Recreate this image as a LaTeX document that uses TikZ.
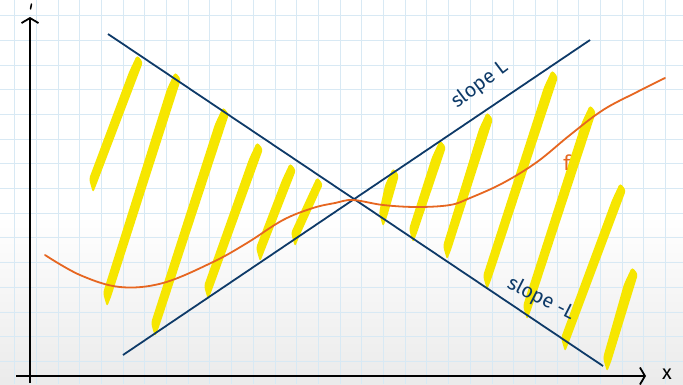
\documentclass[tikz,border=0pt]{standalone}
\usepackage{fontspec}
\setsansfont{Fira Sans}
\usetikzlibrary{arrows.meta}
\definecolor{navy}{RGB}{14,58,104}
\definecolor{hl}{RGB}{246,230,0}
\definecolor{fcol}{RGB}{230,102,32}
\definecolor{gridc}{RGB}{216,233,244}
\newcommand{\ystroke}[4]{%
  \fill[hl, rounded corners=3pt] (#1,#2) -- (#1+6,#2+7) -- (#3+4,#4-10) -- (#3,#4) -- (#3-4,#4-14) -- (#1-8,#2+17) -- cycle;}
\begin{document}
\begin{tikzpicture}[x=1pt,y=-1pt,
  gridline/.style={gridc, line width=0.7pt},
  bound/.style={navy, line width=1.8pt},
  axis/.style={black, line width=1.8pt, -{Straight Barb[length=5pt,width=17pt,line width=1.8pt]}},
  lab/.style={navy, font=\sffamily\fontsize{20}{20}\selectfont},
  curvef/.style={fcol, line width=1.8pt, line cap=round}]
\useasboundingbox (0,0) rectangle (683,384);
\fill[white] (0,0) rectangle (683,384);
\shade[top color=white, bottom color=black!8] (0,215) rectangle (683,384);
\foreach \i in {0,...,31} \draw[gridline] ({14.5+21.7*\i},0) -- ({14.5+21.7*\i},384);
\foreach \j in {0,...,15} \draw[gridline] (0,{15.5+24.7*\j}) -- (683,{15.5+24.7*\j});
% yellow hatching
\ystroke{137}{55}{93}{193}
\ystroke{175}{72}{107}{307}
\ystroke{223}{107}{155}{337}
\ystroke{257}{142}{208}{300}
\ystroke{290}{163}{260}{262}
\ystroke{317}{177}{295}{247}
\ystroke{393}{168}{383}{227}
\ystroke{440}{140}{413}{243}
\ystroke{487}{112}{447}{260}
\ystroke{552}{70}{487}{290}
\ystroke{590}{105}{527}{320}
\ystroke{620}{183}{565}{352}
\ystroke{632}{267}{607}{372}
% bounding lines
\coordinate (a1) at (108,34);
\coordinate (a2) at (603,366);
\coordinate (b1) at (123,355);
\coordinate (b2) at (590,40);
\draw[bound] (a1) -- (a2);
\draw[bound] (b1) -- (b2);
% function f
\draw[curvef] plot[smooth, tension=0.6] coordinates {(45,255) (80,275) (120,287) (163,283) (213,262) (247,243) (283,220) (313,208) (335,203) (353,200) (383,205) (417,207) (450,205) (470,198) (503,183) (537,162) (570,135) (603,110) (637,92) (665,78)};
\node[fcol, font=\sffamily\fontsize{21}{21}\selectfont] (flab) at (567,163) {f};
% labels
\node[lab, rotate=37] (sL) at (480,85) {slope L};
\node[lab, rotate=-27] (smL) at (541,299) {slope -L};
% axes
\coordinate (yb) at (30,383);
\coordinate (yt) at (30,17);
\coordinate (xl) at (16,376);
\coordinate (xr) at (646,376);
\draw[axis] (yb) -- (yt);
\draw[axis] (xl) -- (xr);
\draw[black, line width=1.5pt, line cap=round] (31.5,4) -- (30.5,9);
\node[font=\sffamily\fontsize{20}{20}\selectfont] (xlab) at (667,374) {x};
\end{tikzpicture}
\end{document}
